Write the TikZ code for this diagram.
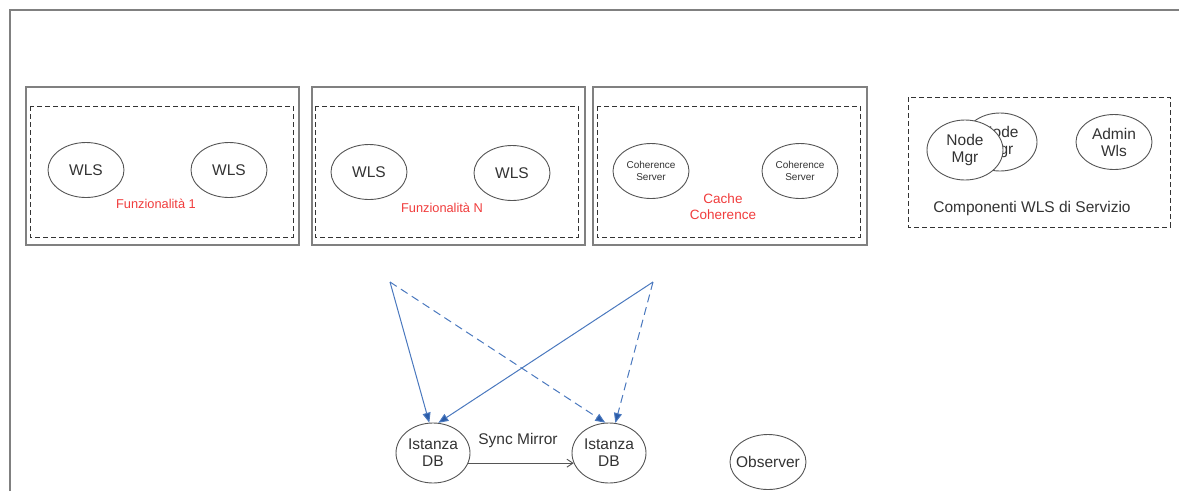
\documentclass[tikz,border=0pt]{standalone}
\usepackage{fontspec}
\setmainfont{Liberation Sans}
\usetikzlibrary{arrows.meta,shapes.geometric}
\definecolor{txt}{HTML}{333333}
\definecolor{lin}{HTML}{555555}
\definecolor{frm}{HTML}{808080}
\definecolor{blu}{HTML}{4A78BE}
\definecolor{bluh}{HTML}{2B5CA8}
\definecolor{redt}{HTML}{F03C3C}
\tikzset{
  srv/.style={ellipse,draw=lin,line width=0.9pt,fill=white,minimum width=76pt,minimum height=55pt,inner sep=0pt,text=txt,align=center,font=\fontsize{15.5}{17}\selectfont},
  srvsmall/.style={srv,font=\fontsize{10}{12}\selectfont},
  outerbox/.style={draw=frm,line width=1.4pt},
  innerbox/.style={draw=black!80,line width=0.8pt,dash pattern=on 5pt off 3pt},
  lbl/.style={text=txt,font=\fontsize{15.5}{17}\selectfont,inner sep=0pt},
  redlbl/.style={text=redt,font=\fontsize{12.8}{15}\selectfont,inner sep=0pt,align=center},
  conn/.style={draw=blu,line width=1pt,-{Triangle[length=10pt,width=8pt,fill=bluh]}},
  connd/.style={conn,dash pattern=on 8pt off 5pt},
  sync/.style={draw=lin,line width=0.9pt,-{Straight Barb[length=6pt,width=8pt]}}
}
\begin{document}
\begin{tikzpicture}[x=1pt,y=-1pt]
\useasboundingbox (0,0) rectangle (1179,491);
% frame
\draw[draw=frm,line width=2pt] (9.5,491) -- (9.5,10) -- (1179,10);
% box 1
\draw[outerbox] (26,87) rectangle (299,245);
\draw[innerbox] (30,106) rectangle (293,237);
\node[srv] (w1a) at (86,170) {WLS};
\node[srv] (w1b) at (229,170) {WLS};
\node[redlbl] (f1) at (156,204) {Funzionalità 1};
% box 2
\draw[outerbox] (312,87) rectangle (585,245);
\draw[innerbox] (315,106) rectangle (578,237);
\node[srv] (w2a) at (369,172) {WLS};
\node[srv] (w2b) at (512,173) {WLS};
\node[redlbl] (fn) at (442,208) {Funzionalità N};
% box 3
\draw[outerbox] (593,87) rectangle (867,245);
\draw[innerbox] (597,106) rectangle (860,237);
\node[srvsmall] (c1) at (651,171) {Coherence\\Server};
\node[srvsmall] (c2) at (800,171) {Coherence\\Server};
\node[redlbl,font=\fontsize{13.5}{16}\selectfont] (cc) at (723,207) {Cache\\Coherence};
% box 4
\draw[innerbox] (908,97) rectangle (1170,227);
\node[srv,minimum width=74pt,minimum height=58pt,inner xsep=-6pt] (nm2) at (1000,142) {Node\\Mgr};
\node[srv,minimum width=76pt,minimum height=60pt,inner xsep=-6pt] (nm1) at (965,150) {Node\\Mgr};
\node[srv,inner xsep=-6pt] (adm) at (1114,142) {Admin\\Wls};
\node[lbl] (cws) at (1032,208) {Componenti WLS di Servizio};
% DB
\node[srv,minimum width=74pt,minimum height=60pt,inner xsep=-6pt] (db1) at (433,453) {Istanza\\DB};
\node[srv,minimum width=74pt,minimum height=60pt,inner xsep=-6pt] (db2) at (609,453) {Istanza\\DB};
\node[srv,inner xsep=-9pt] (obs) at (768,462) {Observer};
\coordinate (o1) at (390,282);
\coordinate (o2) at (653,282);
\draw[conn] (o1) -- (db1.97);
\draw[conn] (o2) -- (db1.80);
\draw[connd] (o1) -- (db2.97);
\draw[connd] (o2) -- (db2.78);
\draw[sync] (db1.-16) -- (db2.196);
\node[lbl] (sm) at (518,440) {Sync Mirror};
\end{tikzpicture}
\end{document}
